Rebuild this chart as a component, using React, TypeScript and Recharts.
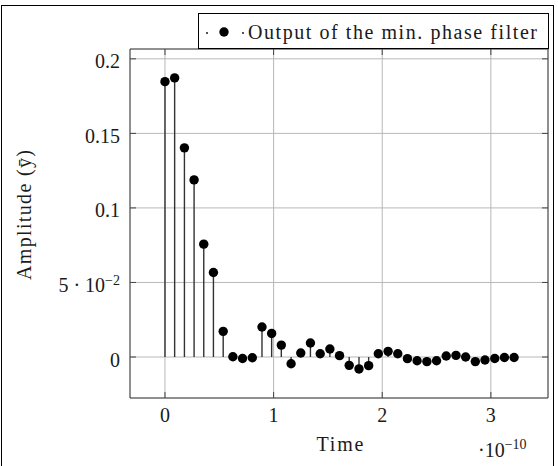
import { ComposedChart, Scatter, XAxis, YAxis, CartesianGrid, ReferenceLine } from "recharts";

// time in units of 1e-10 s
const timeE10 = [
  0, 0.089, 0.179, 0.268, 0.357, 0.446, 0.536, 0.625, 0.714, 0.804,
  0.893, 0.982, 1.071, 1.161, 1.25, 1.339, 1.429, 1.518, 1.607, 1.696,
  1.786, 1.875, 1.964, 2.054, 2.143, 2.232, 2.321, 2.411, 2.5, 2.589,
  2.679, 2.768, 2.857, 2.946, 3.036, 3.125, 3.214,
];

const amplitude = [
  0.1847, 0.1872, 0.1403, 0.1188, 0.0757, 0.0567, 0.0172, 0.0002, -0.001, -0.0005,
  0.0201, 0.0158, 0.008, -0.0045, 0.0027, 0.0094, 0.0022, 0.0054, 0.0009, -0.0056,
  -0.008, -0.0058, 0.0022, 0.0038, 0.0022, -0.0011, -0.0025, -0.0031, -0.0025, 0.0007,
  0.0011, 0, -0.0031, -0.002, -0.001, -0.0003, -0.0003,
];

const xTicks = [0, 1, 2, 3];
const yTicks = [0, 0.05, 0.1, 0.15, 0.2];
const yTickText = ["0", "5 · 10", "0.1", "0.15", "0.2"];
const yTickExp = ["", "−2", "", "", ""];

const seriesName = "Output of the min. phase filter";

const data = timeE10.map((t, i) => ({ t, y: amplitude[i] }));

const X_DOMAIN = [-0.322, 3.526];
const Y_DOMAIN = [-0.0275, 0.2066];

const FONT = "'Liberation Serif', 'Times New Roman', serif";
const INK = "#1a1a1a";
const FRAME = "#444";

function BottomTick({ x, y, payload }: any) {
  return (
    <g>
      <line x1={x} y1={y} x2={x} y2={y - 6} stroke={FRAME} />
      <text x={x} y={y + 23.5} textAnchor="middle" fontFamily={FONT} fontSize={20} fill={INK}>
        {payload.value}
      </text>
    </g>
  );
}

function TopTick({ x, y }: any) {
  return <line x1={x} y1={y} x2={x} y2={y + 6} stroke={FRAME} />;
}

function LeftTick({ x, y, payload }: any) {
  const i = yTicks.indexOf(payload.value);
  return (
    <g>
      <line x1={x} y1={y} x2={x + 6} y2={y} stroke={FRAME} />
      <text x={x - 10} y={y + 9.5} textAnchor="end" fontFamily={FONT} fontSize={20} fill={INK}>
        {yTickText[i]}
        {yTickExp[i] ? (
          <tspan fontSize={14} dy={-7}>{yTickExp[i]}</tspan>
        ) : null}
      </text>
    </g>
  );
}

function RightTick({ x, y }: any) {
  return <line x1={x} y1={y} x2={x - 6} y2={y} stroke={FRAME} />;
}

function StemDot({ cx, cy }: any) {
  return <circle cx={cx} cy={cy} r={4.7} fill="#000" />;
}

export default function App() {
  return (
    <div style={{ position: "absolute", left: 0, top: 0, width: 558, height: 466, background: "#fff" }}>
      <div
        style={{
          position: "absolute", left: 1, top: 5, width: 553, height: 461,
          borderLeft: "1.5px solid #000", borderTop: "1.5px solid #000", borderRight: "1.5px solid #000",
          boxSizing: "border-box",
        }}
      />
      <ComposedChart
        width={558}
        height={466}
        data={data}
        margin={{ top: 0, right: 0, bottom: 0, left: 0 }}
        style={{ position: "absolute", left: 0, top: 0 }}
      >
        <CartesianGrid stroke="#b8b8b8" strokeWidth={1} />
        <XAxis
          dataKey="t"
          type="number"
          domain={X_DOMAIN}
          ticks={xTicks}
          interval={0}
          allowDataOverflow
          height={68}
          tickSize={0}
          tickMargin={0}
          tickLine={false}
          axisLine={{ stroke: FRAME }}
          tick={<BottomTick />}
        />
        <XAxis
          xAxisId="top"
          orientation="top"
          dataKey="t"
          type="number"
          domain={X_DOMAIN}
          ticks={xTicks}
          interval={0}
          allowDataOverflow
          height={49}
          tickSize={0}
          tickMargin={0}
          tickLine={false}
          axisLine={{ stroke: FRAME }}
          tick={<TopTick />}
        />
        <YAxis
          type="number"
          domain={Y_DOMAIN}
          ticks={yTicks}
          interval={0}
          allowDataOverflow
          width={130}
          tickSize={0}
          tickMargin={0}
          tickLine={false}
          axisLine={{ stroke: FRAME }}
          tick={<LeftTick />}
        />
        <YAxis
          yAxisId="right"
          orientation="right"
          type="number"
          domain={Y_DOMAIN}
          ticks={yTicks}
          interval={0}
          allowDataOverflow
          width={10}
          tickSize={0}
          tickMargin={0}
          tickLine={false}
          axisLine={{ stroke: FRAME }}
          tick={<RightTick />}
        />
        {data.map((d, i) => (
          <ReferenceLine
            key={i}
            segment={[{ x: d.t, y: 0 }, { x: d.t, y: d.y }]}
            stroke="#333"
            strokeWidth={1.4}
          />
        ))}
        <Scatter
          dataKey="y"
          name={seriesName}
          fill="#000"
          shape={<StemDot />}
          isAnimationActive={false}
        />
        <text x={340} y={451} textAnchor="middle" fontFamily={FONT} fontSize={20} fill={INK} textLength={47} lengthAdjust="spacing">
          Time
        </text>
        <text x={478} y={457} fontFamily={FONT} fontSize={20} fill={INK}>
          ·10<tspan fontSize={14} dy={-8}>−10</tspan>
        </text>
        <text
          x={31}
          y={215}
          transform="rotate(-90 31 215)"
          textAnchor="middle"
          fontFamily={FONT}
          fontSize={20}
          fill={INK}
          textLength={130}
          lengthAdjust="spacing"
        >
          Amplitude ({"y\u0304"})
        </text>
      </ComposedChart>
      <div
        style={{
          position: "absolute", left: 198, top: 13, width: 351, height: 36,
          border: "1.5px solid #000", boxSizing: "border-box", background: "#fff",
        }}
      >
        <svg width={348} height={33} style={{ position: "absolute", left: 0, top: 0 }}>
          <circle cx={8} cy={19} r={1} fill={INK} />
          <circle cx={25} cy={18} r={4.7} fill="#000" />
          <circle cx={44} cy={19} r={1} fill={INK} />
          <text x={49} y={25} fontFamily={FONT} fontSize={20} fill={INK} textLength={289} lengthAdjust="spacing">
            {seriesName}
          </text>
        </svg>
      </div>
    </div>
  );
}
